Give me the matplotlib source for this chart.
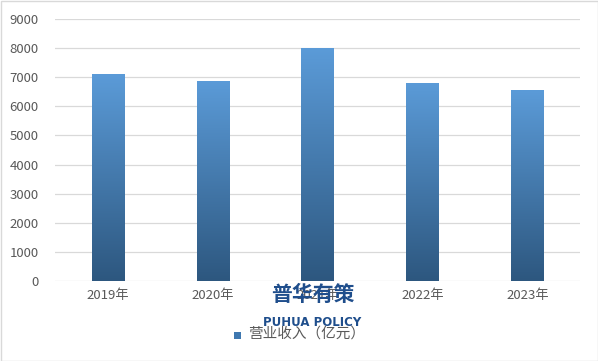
import matplotlib.pyplot as plt
import numpy as np
from matplotlib.colors import LinearSegmentedColormap
from matplotlib.patches import Rectangle

plt.rcParams['font.family'] = ['Noto Sans CJK SC', 'DejaVu Sans']

# données
annees = ['2019年', '2020年', '2021年', '2022年', '2023年']
revenu = [7110, 6880, 8000, 6810, 6560]
graduations = [0, 1000, 2000, 3000, 4000, 5000, 6000, 7000, 8000, 9000]

fig = plt.figure(figsize=(5.98, 3.61), dpi=100)
ax = fig.add_axes([55.5/598, 1-281/361, (580-55.5)/598, (281-19)/361])

x = np.arange(len(annees))
largeur = 0.31
cmap = LinearSegmentedColormap.from_list('bleu', ['#2D577F', '#5B9BD8'])
grad = np.linspace(0, 1, 256).reshape(-1, 1)

for xi, v in zip(x, revenu):
    barre = ax.bar(xi, v, width=largeur, color='none')[0]
    im = ax.imshow(grad, extent=[xi-largeur/2, xi+largeur/2, 0, v], origin='lower',
                   cmap=cmap, aspect='auto', zorder=3)
    im.set_clip_path(barre)

ax.set_xlim(-0.5, len(annees)-0.5)
ax.set_ylim(0, 9000)
ax.set_yticks(graduations)
ax.set_xticks(x)
ax.set_xticklabels(annees)
ax.grid(axis='y', color='#D9D9D9', linewidth=0.9, zorder=0)
ax.set_axisbelow(True)
for s in ax.spines.values():
    s.set_visible(False)
ax.tick_params(length=0, colors='#595959', labelsize=9.5)
ax.tick_params(axis='x', pad=6)
ax.tick_params(axis='y', pad=12)

# filigrane (par-dessus le libellé 2021 comme sur l'original)
fig.text(313/598, 1-294/361, '普华有策', ha='center', va='center', fontsize=15,
         fontweight='bold', color='#1F4E8C', zorder=10)
fig.text(312/598, 1-322/361, 'PUHUA POLICY', ha='center', va='center', fontsize=8.5,
         fontweight='bold', color='#1F4E8C', family='DejaVu Sans')

# légende
fig.patches.append(Rectangle((234/598, 1-339/361), 7/598, 7/361, transform=fig.transFigure,
                             facecolor='#3F78B0', edgecolor='none'))
fig.text(248/598, 1-334/361, '营业收入（亿元）', ha='left', va='center', fontsize=10.5,
         color='#595959')

# cadre
fig.patches.append(Rectangle((0.5/598, 0.5/361), 597/598, 360/361, transform=fig.transFigure,
                             facecolor='none', edgecolor='#D9D9D9', linewidth=1))

fig.savefig('out.png', dpi=100)
